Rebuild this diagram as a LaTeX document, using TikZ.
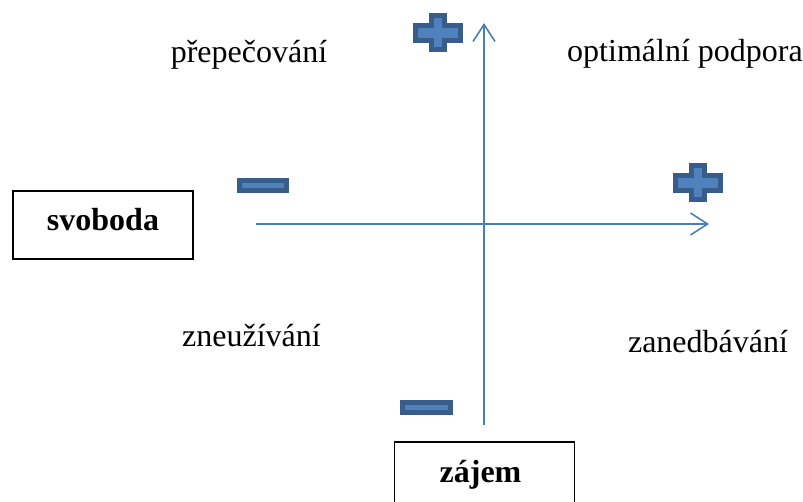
\documentclass[tikz,border=0pt]{standalone}
\usepackage{fontspec}
\setmainfont{Liberation Serif}
\usetikzlibrary{arrows.meta}

\definecolor{axisblue}{HTML}{4A7EBB}
\definecolor{signfill}{HTML}{4F81BD}
\definecolor{signedge}{HTML}{385D8A}

\tikzset{
  axisline/.style={draw=axisblue, line width=1.6pt,
    -{Straight Barb[length=17pt,width=22pt,line width=1.6pt]}},
  quadrant/.style={font=\fontsize{32}{38}\selectfont, anchor=base, inner sep=0pt},
  labelbox/.style={draw=black, line width=1.5pt,
    font=\fontsize{32}{38}\selectfont\bfseries,
    minimum width=180pt, inner xsep=0pt},
  signshape/.style={fill=signfill, draw=signedge, line width=5pt, line join=miter},
  plussign/.pic={
    \path[signshape] (-6.5,-17) -- (6.5,-17) -- (6.5,-7.5) -- (22.5,-7.5)
      -- (22.5,7.5) -- (6.5,7.5) -- (6.5,17) -- (-6.5,17) -- (-6.5,7.5)
      -- (-22.5,7.5) -- (-22.5,-7.5) -- (-6.5,-7.5) -- cycle;
  },
  minussign/.pic={
    \path[signshape] (-23.8,-5) rectangle (23.8,5);
  },
}

\begin{document}
\begin{tikzpicture}[x=1pt, y=-1pt]
  \clip (0,0) rectangle (803,501);

  % axes
  \coordinate (hstart) at (256,224);
  \coordinate (hend)   at (709,224);
  \coordinate (vstart) at (484,425);
  \coordinate (vend)   at (484,23);
  \draw[axisline] (hstart) -- (hend);
  \draw[axisline] (vstart) -- (vend);

  % plus and minus signs at the ends of the axes
  \pic at (438,32.5)   {plussign};
  \pic at (698,182.5)  {plussign};
  \pic at (263,185.5)  {minussign};
  \pic at (426.5,407)  {minussign};

  % quadrant labels
  \node[quadrant] (overcare) at (249,62)   {přepečování};
  \node[quadrant] (optimal)  at (685,61)   {optimální podpora};
  \node[quadrant] (abuse)    at (251.5,346) {zneužívání};
  \node[quadrant] (neglect)  at (708,352)  {zanedbávání};

  % axis labels
  \node[labelbox, anchor=north, inner ysep=17pt, text height=23pt, text depth=11pt]
    (freedom) at (103,190) {svoboda};
  \node[labelbox, anchor=north, inner ysep=18pt, text height=23pt, text depth=20pt]
    (interest) at (484.5,441) {\hspace*{-8pt}zájem};
\end{tikzpicture}
\end{document}
